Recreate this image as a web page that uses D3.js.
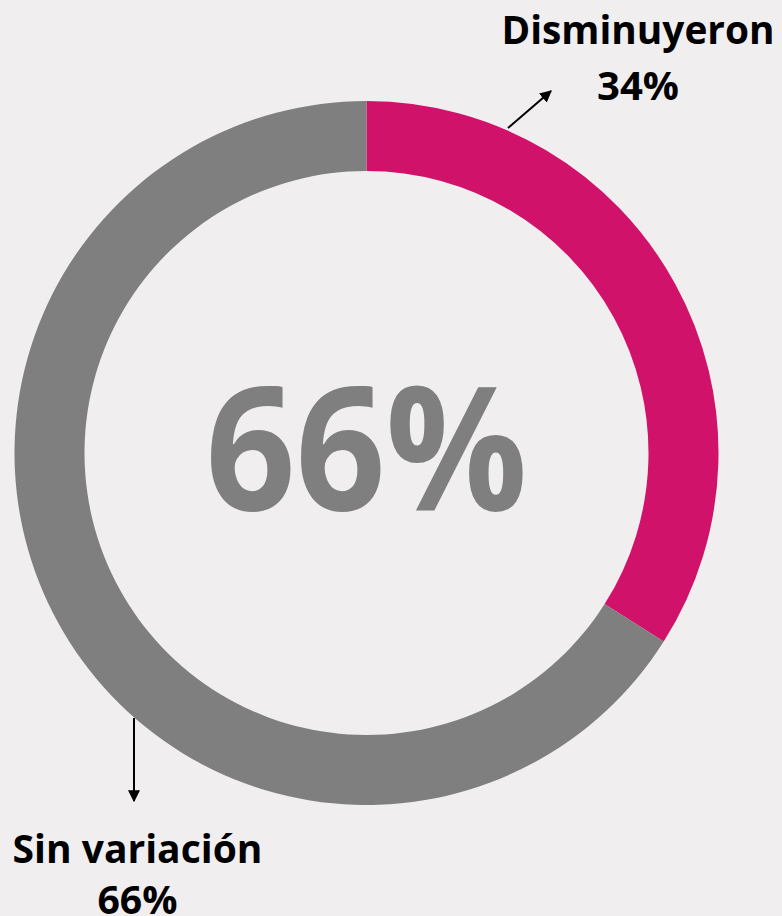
<!DOCTYPE html>
<html>
<head>
<meta charset="utf-8">
<script src="https://cdn.jsdelivr.net/npm/d3@7"></script>
<style>
	html, body { margin: 0; padding: 0; background: #f0eeef; }
	svg { display: block; }
</style>
</head>
<body>
<script>
// chart data
const categories = ["Disminuyeron", "Sin variación"];
const shares = [34, 66];
const colors = ["#d1126a", "#7f7f7f"];
const centerLabel = "66%";

const width = 782;
const height = 916;
const cx = 366.5;
const cy = 453;
const outerR = 352;
const innerR = 282;

const svg = d3.select("body")
	.append("svg")
	.attr("width", width)
	.attr("height", height);

svg.append("defs")
	.append("marker")
	.attr("id", "arrow")
	.attr("viewBox", "0 0 10 10")
	.attr("refX", 9)
	.attr("refY", 5)
	.attr("markerWidth", 6)
	.attr("markerHeight", 6)
	.attr("orient", "auto")
	.append("path")
	.attr("d", "M0,0 L10,5 L0,10 Z")
	.attr("fill", "#000");

let pie = d3.pie().sort(null).value((d) => d);
let arc = d3.arc().innerRadius(innerR).outerRadius(outerR);

let g = svg.append("g").attr("transform", "translate(" + cx + "," + cy + ")");

let arcs = pie(shares);
g.selectAll("path.slice")
	.data(arcs)
	.enter()
	.append("path")
	.attr("class", "slice")
	.attr("d", arc)
	.attr("fill", (d, i) => colors[i]);

// center value
g.append("text")
	.attr("text-anchor", "middle")
	.attr("y", 57)
	.attr("font-family", "'Open Sans', sans-serif")
	.attr("font-weight", "bold")
	.attr("font-size", 172)
	.attr("fill", "#7f7f7f")
	.attr("textLength", 322)
	.attr("lengthAdjust", "spacingAndGlyphs")
	.text(centerLabel);

// labels with arrows
const labelFont = "'Open Sans', sans-serif";
let labelPos = [
	{ x: 638, y1: 44, y2: 100, ax1: 508, ay1: 128, ax2: 551, ay2: 91, w: 273, pw: 82 },
	{ x: 137.5, y1: 863, y2: 914, ax1: 134, ay1: 718, ax2: 134, ay2: 801, w: 250, pw: 80 }
];

categories.forEach((c, i) => {
	let p = labelPos[i];
	svg.append("line")
		.attr("x1", p.ax1)
		.attr("y1", p.ay1)
		.attr("x2", p.ax2)
		.attr("y2", p.ay2)
		.attr("stroke", "#000")
		.attr("stroke-width", 2)
		.attr("marker-end", "url(#arrow)");
	svg.append("text")
		.attr("x", p.x)
		.attr("y", p.y1)
		.attr("text-anchor", "middle")
		.attr("font-family", labelFont)
		.attr("font-weight", "bold")
		.attr("font-size", 40)
		.attr("textLength", p.w)
		.attr("lengthAdjust", "spacingAndGlyphs")
		.attr("fill", "#000")
		.text(c);
	svg.append("text")
		.attr("x", p.x)
		.attr("y", p.y2)
		.attr("text-anchor", "middle")
		.attr("font-family", labelFont)
		.attr("font-weight", "bold")
		.attr("font-size", 40)
		.attr("textLength", p.pw)
		.attr("lengthAdjust", "spacingAndGlyphs")
		.attr("fill", "#000")
		.text(shares[i] + "%");
});
</script>
</body>
</html>
